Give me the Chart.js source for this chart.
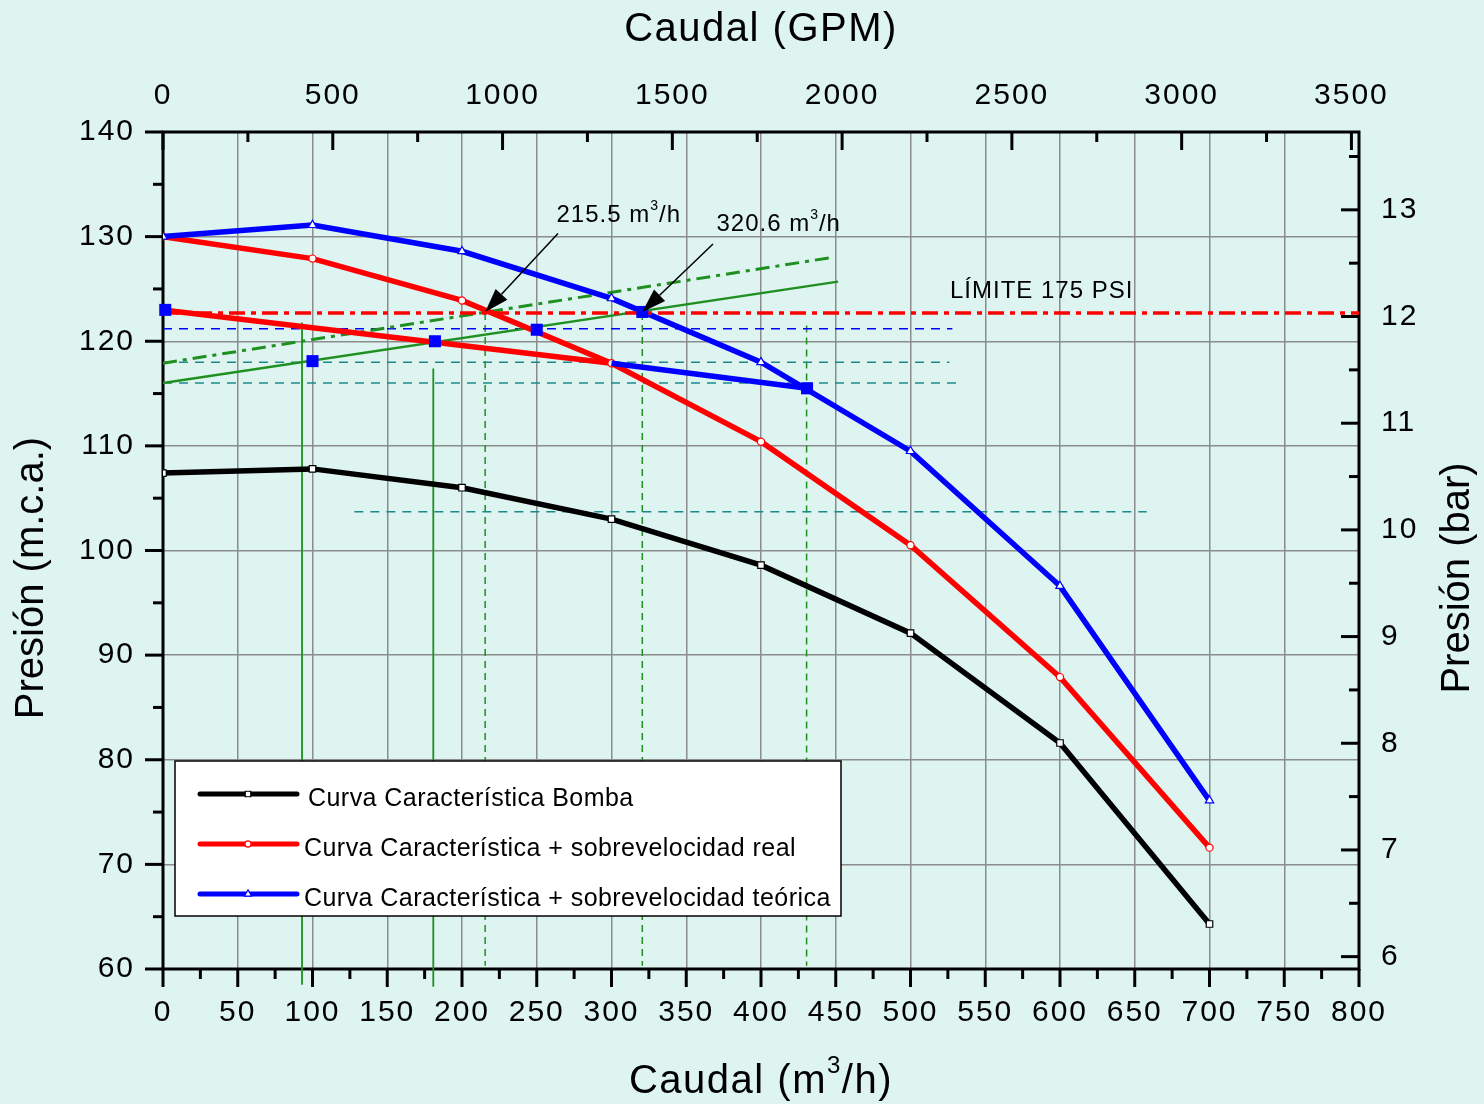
<!DOCTYPE html>
<html lang="es">
<head>
<meta charset="UTF-8" />
<title>Curvas características de la bomba</title>
<script src="https://cdn.jsdelivr.net/npm/chart.js@4.4.0/dist/chart.umd.min.js"></script>
<style>
  html, body { margin: 0; padding: 0; background: #ddf4f0; }
  canvas { display: block; }
</style>
</head>
<body>
<canvas id="curvas" width="1484" height="1104"></canvas>
<script>
// curvas características (caudal en m3/h, presión en m.c.a.)
const caudal = [0, 100, 200, 300, 400, 500, 600, 700];
const bomba = [107.4, 107.8, 106.0, 103.0, 98.6, 92.1, 81.6, 64.3];
const sobreReal = [130.0, 127.9, 123.9, 117.9, 110.4, 100.5, 87.9, 71.6];
const sobreTeorica = [130.0, 131.1, 128.6, 124.1, 118.0, 109.5, 96.6, 76.1];

// tramo inferior con sobrevelocidad limitada
const tramoRealX = [0, 300];
const tramoRealY = [123.0, 117.9];
const tramoTeoX = [300, 430.8];
const tramoTeoY = [117.9, 115.5];

// curvas de la instalación
const instalacionX = [0, 451.5];
const instalacionY = [116.0, 125.7];
const instalacion2X = [0, 447];
const instalacion2Y = [117.9, 128.0];

// puntos de funcionamiento
const puntosX = [1.5, 100, 181.9, 250, 320.6, 430.8];
const puntosY = [123.0, 118.1, 120.0, 121.1, 122.8, 115.5];

// límite 175 PSI
const limitePSI = 122.7;

// niveles de referencia horizontales
const refNivel = [121.2, 118.0, 116.0, 103.7];
const refDesde = [0, 0, 0, 128];
const refHasta = [528, 526, 532, 658];

// verticales de caudal
const verticalX = [93, 180.8, 215.5, 320.6, 430.5];
const verticalArriba = [121.8, 117.4, 122.7, 122.7, 121.5];
const verticalAbajo = [58.5, 58.3, 60.3, 60.3, 60.3];

// caudales de corte con el límite y posición de sus rótulos
const cortes = [215.5, 320.6];
const rotuloX = [263.2, 370.2];
const rotuloY = [132.0, 131.2];
const flechaX = [264.2, 367.9];
const flechaY = [130.3, 129.3];

// ejes secundarios
const M_POR_BAR = 10.197;
const GPM_POR_M3H = 4.40287;
const ticksGPM = [0, 500, 1000, 1500, 2000, 2500, 3000, 3500];
const ticksBar = [6, 7, 8, 9, 10, 11, 12, 13];

const FUENTE = '"Liberation Sans", Arial, sans-serif';
const VERDE = '#1f8f1f';
const TEAL = '#1a8a8a';

const xy = (xs, ys) => xs.map((x, i) => ({ x: x, y: ys[i] }));

const datasets = [
  {
    label: 'Puntos',
    data: xy(puntosX, puntosY),
    showLine: false,
    pointStyle: 'rect',
    pointRadius: 8.5,
    backgroundColor: '#0000ff',
    borderColor: '#0000ff',
    borderWidth: 0,
    order: 0,
    clip: false
  },
  {
    label: 'Límite',
    data: [{ x: 0, y: limitePSI }, { x: 800, y: limitePSI }],
    borderColor: '#ff0000',
    borderWidth: 3.5,
    borderDash: [16, 6, 5, 6],
    pointRadius: 0,
    order: 1
  },
  {
    label: 'Curva Característica Bomba',
    data: xy(caudal, bomba),
    borderColor: '#000000',
    borderWidth: 5.5,
    pointStyle: 'rect',
    pointRadius: 4.6,
    pointBackgroundColor: '#ffffff',
    pointBorderColor: '#000000',
    pointBorderWidth: 1.2,
    order: 2
  },
  {
    label: 'Curva Característica + sobrevelocidad real',
    data: xy(caudal, sobreReal),
    borderColor: '#ff0000',
    borderWidth: 5.5,
    pointStyle: 'circle',
    pointRadius: 3.6,
    pointBackgroundColor: '#ffffff',
    pointBorderColor: '#ff0000',
    pointBorderWidth: 1.2,
    order: 3
  },
  {
    label: 'Curva Característica + sobrevelocidad teórica',
    data: xy(caudal, sobreTeorica),
    borderColor: '#0000ff',
    borderWidth: 5.5,
    pointStyle: 'triangle',
    pointRadius: 4.8,
    pointBackgroundColor: '#ffffff',
    pointBorderColor: '#0000ff',
    pointBorderWidth: 1.2,
    order: 2
  },
  {
    label: 'tramo real',
    data: xy(tramoRealX, tramoRealY),
    borderColor: '#ff0000',
    borderWidth: 5.5,
    pointRadius: 0,
    order: 3
  },
  {
    label: 'tramo teórico',
    data: xy(tramoTeoX, tramoTeoY),
    borderColor: '#0000ff',
    borderWidth: 5.5,
    pointRadius: 0,
    order: 2
  },
  {
    label: 'instalación',
    data: xy(instalacionX, instalacionY),
    borderColor: VERDE,
    borderWidth: 2.5,
    pointRadius: 0,
    order: 5
  },
  {
    label: 'instalación 2',
    data: xy(instalacion2X, instalacion2Y),
    borderColor: VERDE,
    borderWidth: 3,
    borderDash: [14, 6, 4, 6],
    pointRadius: 0,
    order: 5
  }
];

refNivel.forEach((nivel, i) => {
  datasets.push({
    label: 'ref ' + i,
    data: [{ x: refDesde[i], y: nivel }, { x: refHasta[i], y: nivel }],
    borderColor: i === 0 ? '#0000ff' : TEAL,
    borderWidth: 1.5,
    borderDash: [9, 7],
    pointRadius: 0,
    order: 6
  });
});

verticalX.forEach((x, i) => {
  datasets.push({
    label: 'vertical ' + i,
    data: [{ x: x, y: verticalArriba[i] }, { x: x, y: verticalAbajo[i] }],
    borderColor: VERDE,
    borderWidth: i < 2 ? 1.8 : 1.5,
    borderDash: i < 2 ? [] : [7, 5],
    pointRadius: 0,
    order: 6,
    clip: false
  });
});

// fondo del lienzo; el espaciado de letras queda para las etiquetas de los ejes
const fondo = {
  id: 'fondo',
  beforeDraw(chart) {
    const ctx = chart.ctx;
    ctx.save();
    ctx.fillStyle = '#ddf4f0';
    ctx.fillRect(0, 0, chart.width, chart.height);
    ctx.restore();
    ctx.letterSpacing = '2px';
  }
};

// marco de ejes con marcas mayores y menores
function marcas(ctx, scale, valores, largo, lado) {
  const area = scale.chart.chartArea;
  valores.forEach(v => {
    const p = scale.getPixelForValue(v);
    ctx.beginPath();
    if (lado === 'abajo') { ctx.moveTo(p, area.bottom); ctx.lineTo(p, area.bottom + largo); }
    if (lado === 'izq') { ctx.moveTo(area.left, p); ctx.lineTo(area.left - largo, p); }
    if (lado === 'arriba') { ctx.moveTo(p, area.top); ctx.lineTo(p, area.top + largo); }
    if (lado === 'der') { ctx.moveTo(area.right, p); ctx.lineTo(area.right - largo, p); }
    ctx.stroke();
  });
}

function serie(desde, hasta, paso) {
  const r = [];
  for (let v = desde; v <= hasta + 1e-9; v += paso) r.push(v);
  return r;
}

const marco = {
  id: 'marco',
  beforeDatasetsDraw(chart) {
    const ctx = chart.ctx;
    const a = chart.chartArea;
    const s = chart.scales;
    ctx.save();
    ctx.strokeStyle = '#000000';
    ctx.lineWidth = 3;
    ctx.strokeRect(a.left, a.top, a.right - a.left, a.bottom - a.top);
    marcas(ctx, s.x, serie(0, 800, 50), 18, 'abajo');
    marcas(ctx, s.x, serie(25, 775, 50), 10, 'abajo');
    marcas(ctx, s.y, serie(60, 140, 10), 18, 'izq');
    marcas(ctx, s.y, serie(65, 135, 10), 10, 'izq');
    marcas(ctx, s.x2, ticksGPM, 18, 'arriba');
    marcas(ctx, s.x2, serie(250, 3250, 500), 10, 'arriba');
    marcas(ctx, s.y2, ticksBar, 18, 'der');
    marcas(ctx, s.y2, serie(6.5, 13.5, 1), 10, 'der');
    ctx.restore();
  }
};

// texto con exponente "3" pequeño y elevado
function textoM3(ctx, antes, despues, x, y, size) {
  ctx.font = size + 'px ' + FUENTE;
  ctx.fillText(antes, x, y);
  let w = ctx.measureText(antes).width;
  ctx.font = Math.round(size * 0.6) + 'px ' + FUENTE;
  ctx.fillText('3', x + w, y - size * 0.38);
  w += ctx.measureText('3').width;
  ctx.font = size + 'px ' + FUENTE;
  ctx.fillText(despues, x + w, y);
  return w + ctx.measureText(despues).width;
}

// títulos de ejes, rótulos, flechas y leyenda
const rotulos = {
  id: 'rotulos',
  afterDatasetsDraw(chart) {
    const ctx = chart.ctx;
    const a = chart.chartArea;
    const sx = chart.scales.x;
    const sy = chart.scales.y;
    ctx.save();
    ctx.fillStyle = '#000000';
    ctx.textBaseline = 'middle';

    // títulos
    ctx.font = '40px ' + FUENTE;
    ctx.textAlign = 'center';
    ctx.letterSpacing = '0px';
    ctx.save();
    ctx.translate(32, 578);
    ctx.rotate(-Math.PI / 2);
    ctx.fillText('Presión (m.c.a.)', 0, 0);
    ctx.restore();
    ctx.save();
    ctx.translate(1458, 578);
    ctx.rotate(-Math.PI / 2);
    ctx.fillText('Presión (bar)', 0, 0);
    ctx.restore();
    ctx.letterSpacing = '1.5px';
    const cx = (a.left + a.right) / 2;
    ctx.fillText('Caudal (GPM)', cx, 30);
    ctx.textAlign = 'left';
    ctx.globalAlpha = 0;
    const anchoTitulo = textoM3(ctx, 'Caudal (m', ')', 0, -100, 40);
    ctx.globalAlpha = 1;
    textoM3(ctx, 'Caudal (m', '/h)', cx - (anchoTitulo + ctx.measureText('/h').width) / 2, 1082, 40);

    // rótulos de caudal de corte con flecha
    ctx.letterSpacing = '1px';
    cortes.forEach((c, i) => {
      ctx.fillStyle = '#000000';
      textoM3(ctx, c.toFixed(1) + ' m', '/h', sx.getPixelForValue(rotuloX[i]), sy.getPixelForValue(rotuloY[i]), 24);
      const x0 = sx.getPixelForValue(flechaX[i]);
      const y0 = sy.getPixelForValue(flechaY[i]);
      const x1 = sx.getPixelForValue(c);
      const y1 = sy.getPixelForValue(limitePSI + 0.1);
      const ang = Math.atan2(y1 - y0, x1 - x0);
      const largo = 24, ancho = 8;
      const bx = x1 - largo * Math.cos(ang);
      const by = y1 - largo * Math.sin(ang);
      ctx.strokeStyle = '#000000';
      ctx.lineWidth = 1.5;
      ctx.beginPath();
      ctx.moveTo(x0, y0);
      ctx.lineTo(bx, by);
      ctx.stroke();
      ctx.beginPath();
      ctx.moveTo(x1, y1);
      ctx.lineTo(bx + ancho * Math.sin(ang), by - ancho * Math.cos(ang));
      ctx.lineTo(bx - ancho * Math.sin(ang), by + ancho * Math.cos(ang));
      ctx.closePath();
      ctx.fill();
    });
    ctx.font = '24px ' + FUENTE;
    ctx.fillText('LÍMITE 175 PSI', sx.getPixelForValue(526.4), sy.getPixelForValue(124.8));

    // leyenda
    const bx = a.left + 12, by = a.top + 629, bw = 666, bh = 155;
    ctx.fillStyle = '#ffffff';
    ctx.fillRect(bx, by, bw, bh);
    ctx.strokeStyle = '#000000';
    ctx.lineWidth = 1.5;
    ctx.strokeRect(bx, by, bw, bh);
    ctx.letterSpacing = '0.45px';
    ctx.font = '25px ' + FUENTE;
    [2, 3, 4].forEach((d, k) => {
      const ds = chart.data.datasets[d];
      const y = by + 33 + k * 50;
      ctx.strokeStyle = ds.borderColor;
      ctx.lineWidth = 5;
      ctx.lineCap = 'round';
      ctx.beginPath();
      ctx.moveTo(bx + 25, y);
      ctx.lineTo(bx + 122, y);
      ctx.stroke();
      ctx.fillStyle = '#ffffff';
      ctx.strokeStyle = ds.pointBorderColor;
      ctx.lineWidth = 1.2;
      Chart.helpers.drawPoint(ctx, { pointStyle: ds.pointStyle, radius: ds.pointRadius * 0.85, rotation: 0, borderWidth: 1.2 }, bx + 73, y);
      ctx.fillStyle = '#000000';
      ctx.fillText(ds.label, bx + (k === 0 ? 133 : 129), y + 5);
    });
    ctx.restore();
  }
};

const fuenteTicks = { family: FUENTE, size: 30 };

new Chart(document.getElementById('curvas').getContext('2d'), {
  type: 'line',
  data: { datasets: datasets },
  options: {
    responsive: false,
    devicePixelRatio: 1,
    animation: false,
    events: [],
    layout: { padding: 0 },
    elements: { line: { tension: 0 } },
    plugins: { legend: { display: false }, tooltip: { enabled: false } },
    scales: {
      x: {
        type: 'linear',
        position: 'bottom',
        min: 0,
        max: 800,
        ticks: { stepSize: 50, color: '#000', font: fuenteTicks, padding: 26, maxRotation: 0, autoSkip: false, callback: v => String(v) },
        grid: { color: '#8c8c8c', lineWidth: 1.5, drawTicks: false },
        border: { display: false },
        afterFit: s => { s.height = 135; }
      },
      x2: {
        type: 'linear',
        position: 'top',
        min: 0,
        max: 800 * GPM_POR_M3H,
        afterBuildTicks: s => { s.ticks = ticksGPM.map(v => ({ value: v })); },
        ticks: { color: '#000', font: fuenteTicks, padding: 18, maxRotation: 0, autoSkip: false, callback: v => String(v) },
        grid: { display: false, drawTicks: false },
        border: { display: false },
        afterFit: s => { s.height = 132; }
      },
      y: {
        type: 'linear',
        position: 'left',
        min: 60,
        max: 140,
        ticks: { stepSize: 10, color: '#000', font: fuenteTicks, padding: 28, callback: v => String(v) },
        grid: { color: '#8c8c8c', lineWidth: 1.5, drawTicks: false },
        border: { display: false },
        afterFit: s => { s.width = 163; }
      },
      y2: {
        type: 'linear',
        position: 'right',
        min: 60 / M_POR_BAR,
        max: 140 / M_POR_BAR,
        afterBuildTicks: s => { s.ticks = ticksBar.map(v => ({ value: v })); },
        ticks: { color: '#000', font: fuenteTicks, padding: 22, callback: v => String(v) },
        grid: { display: false, drawTicks: false },
        border: { display: false },
        afterFit: s => { s.width = 125; }
      }
    }
  },
  plugins: [fondo, marco, rotulos]
});
</script>
</body>
</html>
